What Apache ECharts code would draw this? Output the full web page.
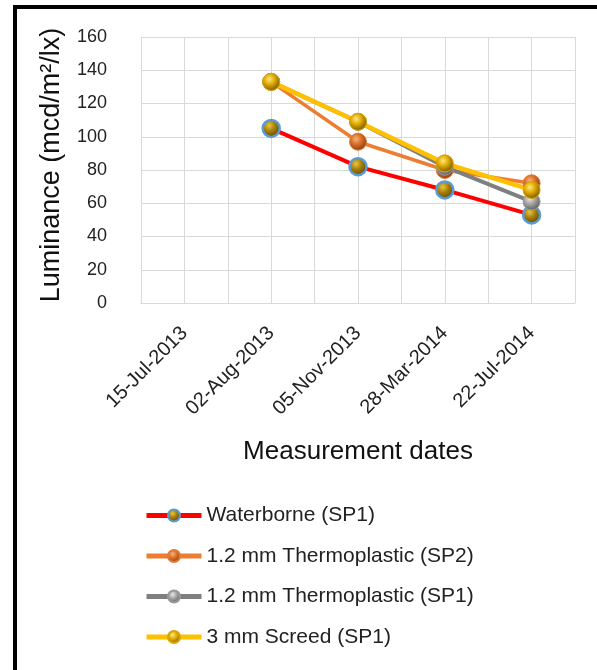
<!DOCTYPE html>
<html>
<head>
<meta charset="utf-8">
<script src="https://cdn.jsdelivr.net/npm/echarts@6/dist/echarts.min.js"></script>
<style>
html,body{margin:0;padding:0;background:#fff;}
#c{width:597px;height:670px;}
</style>
</head>
<body>
<div id="c"></div>
<script>
const categories = ['15-Jul-2013', '02-Aug-2013', '05-Nov-2013', '28-Mar-2014', '22-Jul-2014'];
const waterborneSP1 = [null, 105, 82, 68, 53];
const thermo12SP2 = [null, 133, 97, 80, 72];
const thermo12SP1 = [null, 133, 109, 82, 61];
const screed3SP1 = [null, 133, 109, 84, 68];
const yTicks = [0, 20, 40, 60, 80, 100, 120, 140, 160];

const FONT = 'Liberation Sans, Arial, sans-serif';

function ball(light, mid, dark) {
  return {
    type: 'radial', x: 0.4, y: 0.35, r: 0.65,
    colorStops: [
      { offset: 0, color: light },
      { offset: 0.45, color: mid },
      { offset: 1, color: dark }
    ]
  };
}

const chart = echarts.init(document.getElementById('c'), null, { renderer: 'canvas' });

function mkSeries(name, data, lineColor, lw, fill, border, bw) {
  return {
    name: name,
    type: 'line',
    xAxisIndex: 0,
    data: data,
    symbol: 'circle',
    symbolSize: 17,
    connectNulls: false,
    lineStyle: { color: lineColor, width: lw },
    itemStyle: { color: fill, borderColor: border, borderWidth: bw },
    emphasis: { disabled: true },
    animation: false
  };
}

chart.setOption({
  animation: false,
  graphic: [
    { type: 'rect', shape: { x: 13, y: 5, width: 584, height: 4 }, style: { fill: '#000' } },
    { type: 'rect', shape: { x: 13, y: 5, width: 4, height: 665 }, style: { fill: '#000' } }
  ],
  grid: { left: 141, right: 22, top: 37, bottom: 367, containLabel: false },
  legend: {
    orient: 'vertical',
    left: 139,
    top: 500,
    itemWidth: 55,
    itemHeight: 15,
    itemGap: 19.5,
    lineStyle: { width: 5 },
    textStyle: { fontFamily: FONT, fontSize: 21, lineHeight: 21, color: '#222' },
    data: ['Waterborne (SP1)', '1.2 mm Thermoplastic (SP2)', '1.2 mm Thermoplastic (SP1)', '3 mm Screed (SP1)']
  },
  xAxis: [
    {
      type: 'category',
      data: categories,
      boundaryGap: true,
      axisLine: { show: true, lineStyle: { color: '#d9d9d9', width: 1 } },
      axisTick: { show: false },
      splitLine: { show: false },
      axisLabel: {
        rotate: 45, fontFamily: FONT, fontSize: 20, color: '#222', margin: 27, interval: 0
      },
      name: 'Measurement dates',
      nameLocation: 'middle',
      nameGap: 136,
      nameTextStyle: { fontFamily: FONT, fontSize: 26, color: '#111' }
    },
    {
      type: 'value',
      min: 0, max: 10, interval: 1,
      position: 'bottom',
      axisLine: { show: false },
      axisTick: { show: false },
      axisLabel: { show: false },
      splitLine: { show: true, lineStyle: { color: '#d9d9d9', width: 1 } }
    }
  ],
  yAxis: {
    type: 'value',
    min: yTicks[0],
    max: yTicks[yTicks.length - 1],
    interval: 20,
    axisLine: { show: false },
    axisTick: { show: false },
    axisLabel: { fontFamily: FONT, fontSize: 18, color: '#222', margin: 34 },
    splitLine: { show: true, lineStyle: { color: '#d9d9d9', width: 1 } },
    name: 'Luminance (mcd/m²/lx)',
    nameLocation: 'middle',
    nameGap: 76,
    nameRotate: 90,
    nameTextStyle: { fontFamily: FONT, fontSize: 27, color: '#111', padding: [0, 0, 0, 10] }
  },
  series: [
    mkSeries('Waterborne (SP1)', waterborneSP1, '#ff0000', 4,
      ball('#e8c640', '#a67f0a', '#5e4400'), '#5b9bd5', 2.5),
    mkSeries('1.2 mm Thermoplastic (SP2)', thermo12SP2, '#ed7d31', 3.5,
      ball('#f7b27a', '#d9702a', '#8a3e10'), '#e07a35', 1),
    mkSeries('1.2 mm Thermoplastic (SP1)', thermo12SP1, '#7f7f7f', 4,
      ball('#e6e6e6', '#a5a5a5', '#5f5f5f'), '#999999', 1),
    mkSeries('3 mm Screed (SP1)', screed3SP1, '#ffc000', 4.5,
      ball('#ffe680', '#e0ac00', '#7a5a00'), '#d9a400', 1)
  ]
});
</script>
</body>
</html>
